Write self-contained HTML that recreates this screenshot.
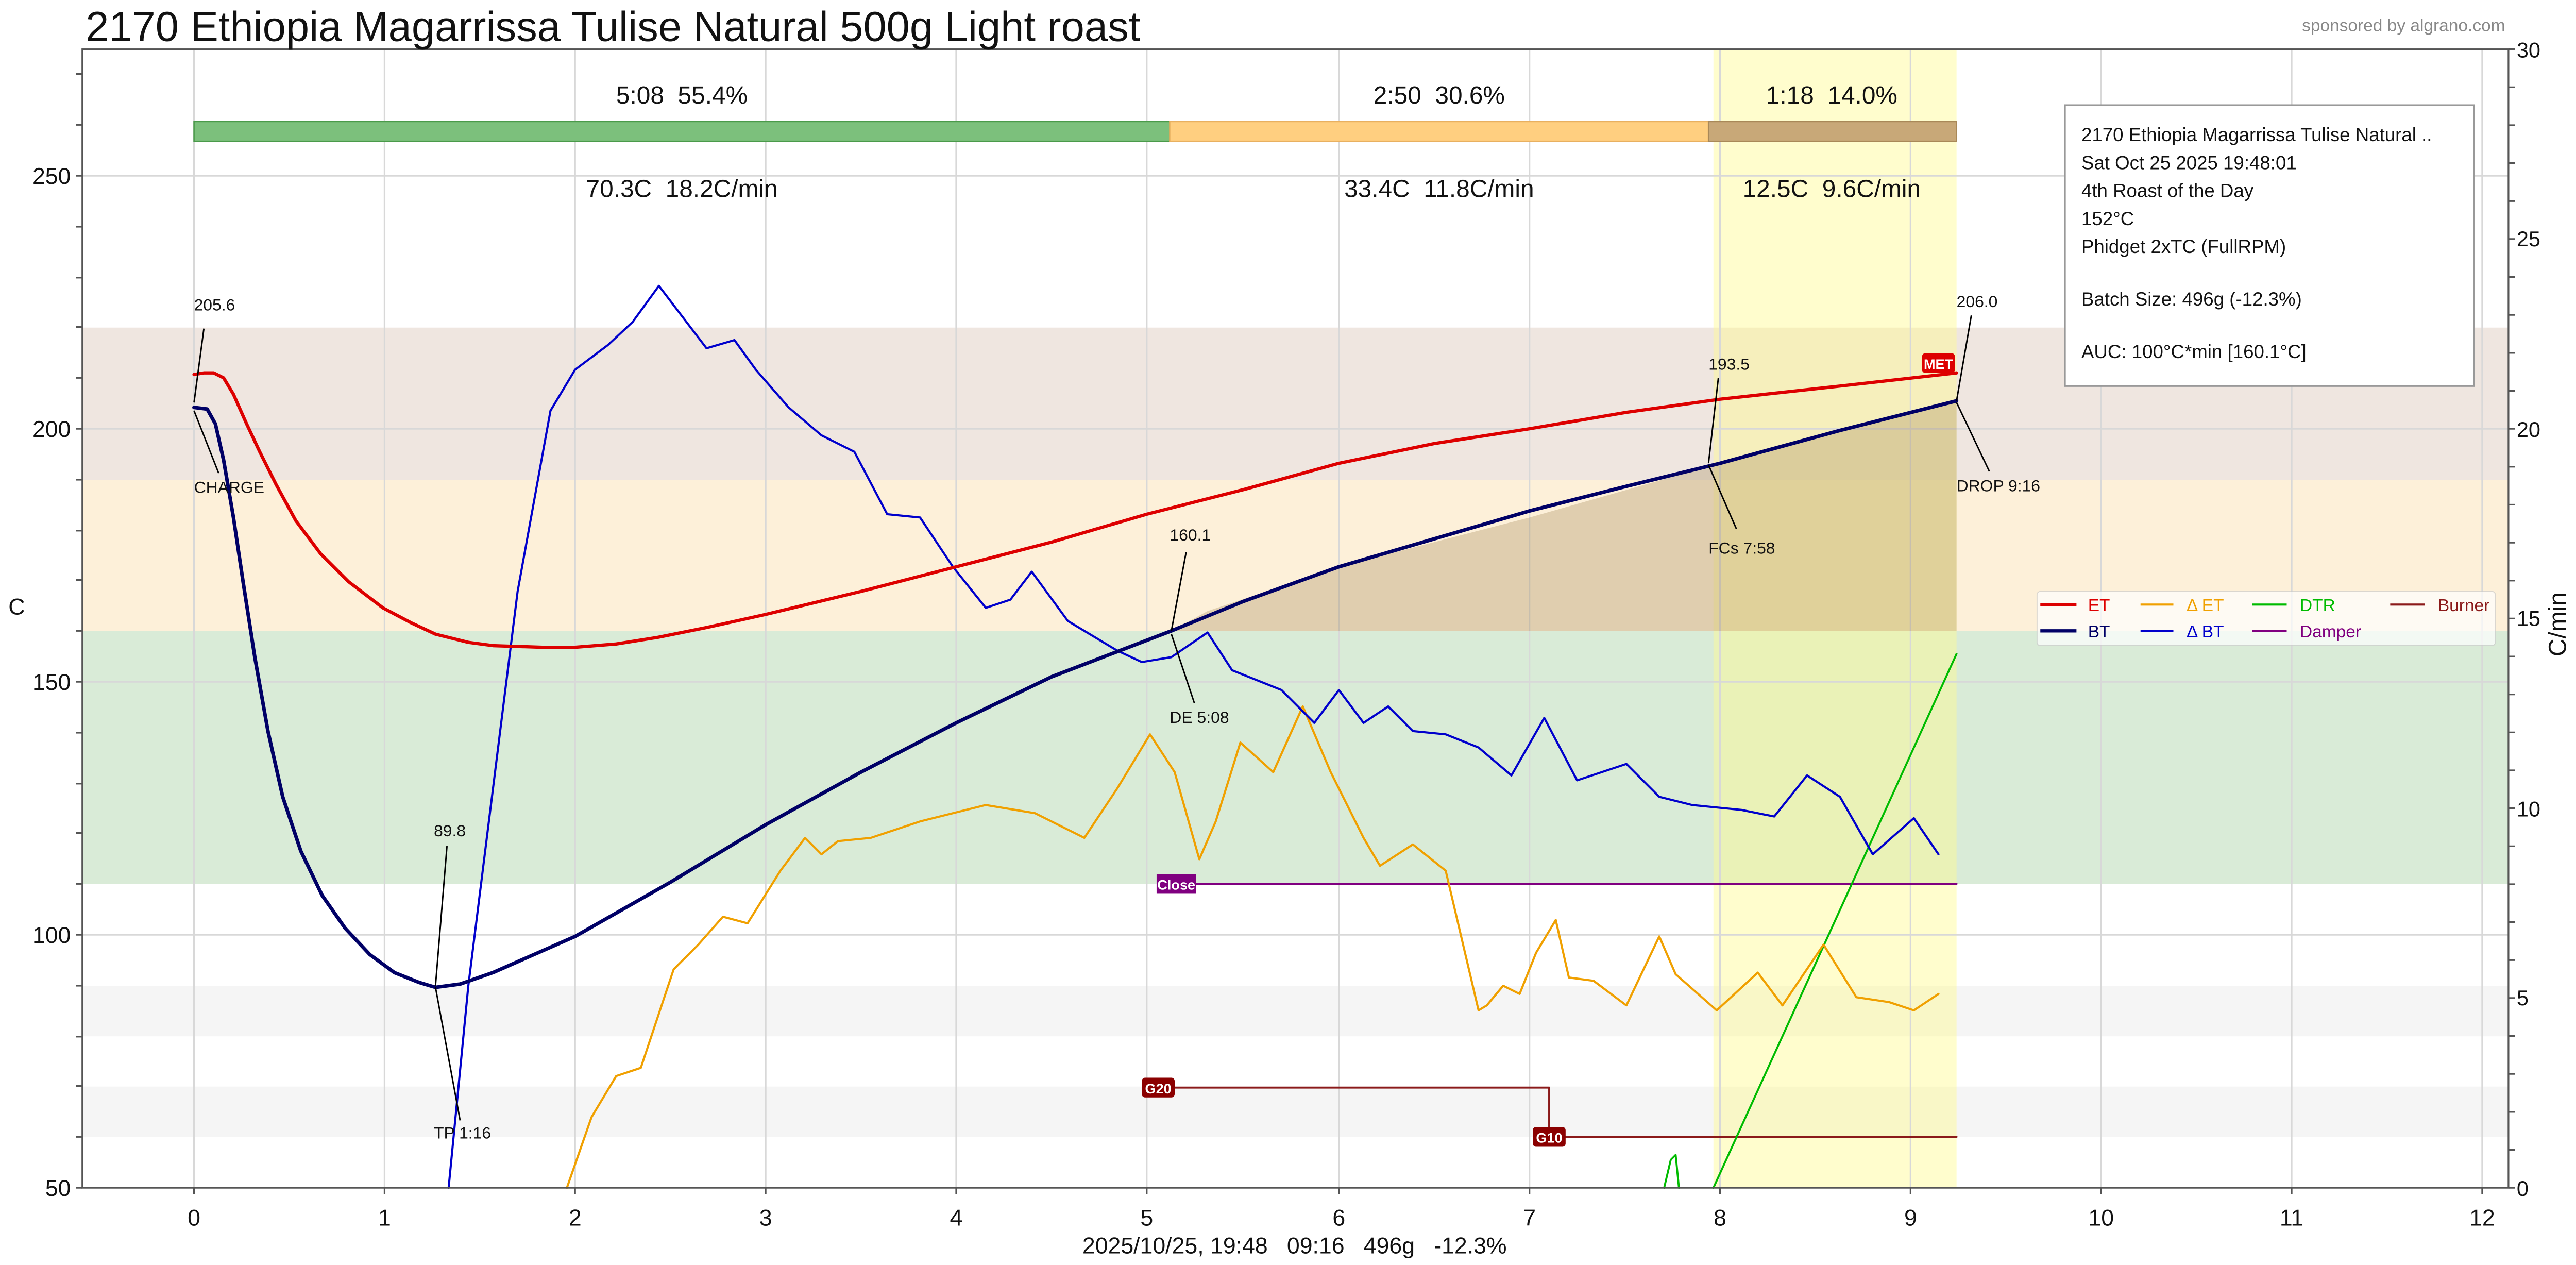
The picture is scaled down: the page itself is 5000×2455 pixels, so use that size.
<!DOCTYPE html>
<html><head><meta charset="utf-8"><style>
html,body{margin:0;padding:0;background:#fff;}
svg{display:block;}
text{font-family:"Liberation Sans",sans-serif;}
polyline{stroke-linejoin:round;stroke-linecap:round;}
</style></head><body>
<svg width="5000" height="2455" viewBox="0 0 1568 770" xmlns="http://www.w3.org/2000/svg">
<rect width="1568" height="770" fill="#fff"/>
<rect x="50" y="199.4" width="1477" height="92.6" fill="#efe6e0"/>
<rect x="50" y="292" width="1477" height="92" fill="#fdf0d9"/>
<rect x="50" y="384" width="1477" height="154" fill="#d9ebd7"/>
<rect x="50" y="600" width="1477" height="30.8" fill="#f5f5f5"/>
<rect x="50" y="661.4" width="1477" height="30.8" fill="#f5f5f5"/>
<rect x="1043" y="30" width="148" height="693" fill="#fffb90" opacity="0.45"/>
<g stroke="#d8d8d8" stroke-width="1">
<line x1="118" y1="30" x2="118" y2="723"/><line x1="234" y1="30" x2="234" y2="723"/><line x1="350" y1="30" x2="350" y2="723"/><line x1="466" y1="30" x2="466" y2="723"/><line x1="582" y1="30" x2="582" y2="723"/><line x1="698" y1="30" x2="698" y2="723"/><line x1="815" y1="30" x2="815" y2="723"/><line x1="931" y1="30" x2="931" y2="723"/><line x1="1047" y1="30" x2="1047" y2="723"/><line x1="1163" y1="30" x2="1163" y2="723"/><line x1="1279" y1="30" x2="1279" y2="723"/><line x1="1395" y1="30" x2="1395" y2="723"/><line x1="1511" y1="30" x2="1511" y2="723"/>
<line x1="50" y1="107" x2="1527" y2="107"/><line x1="50" y1="261" x2="1527" y2="261"/><line x1="50" y1="415" x2="1527" y2="415"/><line x1="50" y1="569" x2="1527" y2="569"/>
</g>
<path d="M713,384 L735,372 L815,345 L931,315 L1047,282 L1120,262 L1191,244 L1191,384 Z" fill="#a89060" opacity="0.35"/>
<rect x="118" y="74" width="594" height="12" fill="#7cc07c" stroke="#4a9a4a" stroke-width="0.8"/>
<rect x="712" y="74" width="328" height="12" fill="#ffcf80" stroke="#e8b060" stroke-width="0.8"/>
<rect x="1040" y="74" width="151" height="12" fill="#c8a878" stroke="#a88858" stroke-width="0.8"/>
<g font-size="15" text-anchor="middle" fill="#111">
<text x="415" y="63">5:08&#160;&#160;55.4%</text><text x="876" y="63">2:50&#160;&#160;30.6%</text><text x="1115" y="63">1:18&#160;&#160;14.0%</text>
<text x="415" y="120">70.3C&#160;&#160;18.2C/min</text><text x="876" y="120">33.4C&#160;&#160;11.8C/min</text><text x="1115" y="120">12.5C&#160;&#160;9.6C/min</text>
</g>
<polyline points="713,538 1191,538" fill="none" stroke="#800080" stroke-width="1.2"/>
<polyline points="705,662 943,662 943,692 1191,692" fill="none" stroke="#8b1a1a" stroke-width="1.2"/>
<polyline points="1013,723 1017,706 1020,703 1022,723" fill="none" stroke="#00bb00" stroke-width="1.2"/>
<polyline points="1043,723 1191,398" fill="none" stroke="#00bb00" stroke-width="1.2"/>
<polyline fill="none" stroke="#f0a000" stroke-width="1.3" points="345,723 360,680 375,655 390,650 410,590 425,575 440,558 455,562 475,530 490,510 500,520 510,512 530,510 560,500 600,490 630,495 660,510 680,480 700,447 715,470 730,523 740,500 755,452 775,470 793,430 810,470 830,510 840,527 860,514 880,530 900,615 905,612 915,600 925,605 935,580 947,560 955,595 970,597 990,612 1010,570 1020,593 1045,615 1070,592 1085,612 1110,575 1130,607 1150,610 1165,615 1180,605"/>
<polyline fill="none" stroke="#0000cc" stroke-width="1.3" points="273,723 285,600 300,480 315,360 335,250 350,225 370,210 385,196 401,174 430,212 447,207 460,225 480,248 500,265 520,275 540,313 560,315 580,345 600,370 615,365 628,348 650,378 680,396 695,403 713,400 735,385 750,408 780,420 800,440 815,420 830,440 845,430 860,445 880,447 900,455 920,472 940,437 960,475 990,465 1010,485 1030,490 1060,493 1080,497 1100,472 1120,485 1140,520 1165,498 1180,520"/>
<polyline fill="none" stroke="#dd0000" stroke-width="2" points="118,228 124,227 130,227 136,230 142,240 150,258 158,275 168,295 180,317 195,337 212,354 233,370 250,379 265,386 285,391 300,393 330,394 350,394 375,392 400,388 430,382 466,374 524,360 582,345 640,330 698,313 757,298 815,282 873,270 931,261 990,251 1047,243 1120,235 1191,227"/>
<polyline fill="none" stroke="#000066" stroke-width="2.2" points="118,248 126,249 131,258 136,280 142,315 148,355 155,400 163,445 172,485 183,518 196,545 210,565 225,581 240,592 255,598 265,601 280,599 300,592 350,570 408,537 466,502 524,470 582,440 640,412 713,384 757,366 815,345 873,328 931,311 990,296 1047,282 1120,262 1191,244"/>
<g stroke="#000" stroke-width="0.9" fill="none">
<line x1="124" y1="200" x2="118" y2="245"/><line x1="118" y1="250" x2="133" y2="288"/>
<line x1="272" y1="515" x2="265" y2="600"/><line x1="265" y1="601" x2="280" y2="682"/>
<line x1="722" y1="336" x2="713" y2="384"/><line x1="713" y1="386" x2="727" y2="428"/>
<line x1="1046" y1="230" x2="1040" y2="282"/><line x1="1040" y1="283" x2="1057" y2="322"/>
<line x1="1200" y1="192" x2="1191" y2="244"/><line x1="1191" y1="245" x2="1211" y2="287"/>
</g>
<g font-size="10" fill="#111">
<text x="118" y="189">205.6</text><text x="118" y="300">CHARGE</text>
<text x="264" y="509">89.8</text><text x="264" y="693">TP 1:16</text>
<text x="712" y="329">160.1</text><text x="712" y="440">DE 5:08</text>
<text x="1040" y="225">193.5</text><text x="1040" y="337">FCs 7:58</text>
<text x="1191" y="187">206.0</text><text x="1191" y="299">DROP 9:16</text>
</g>
<rect x="1170" y="215" width="20" height="12" rx="2" fill="#dd0000"/><text x="1180" y="224.5" font-size="8.5" fill="#fff" text-anchor="middle" font-weight="bold">MET</text>
<rect x="704" y="532" width="24" height="12" fill="#800080"/><text x="716" y="541.5" font-size="8.5" fill="#fff" text-anchor="middle" font-weight="bold">Close</text>
<rect x="695" y="656" width="20" height="12" rx="2" fill="#8b0000"/><text x="705" y="665.5" font-size="8.5" fill="#fff" text-anchor="middle" font-weight="bold">G20</text>
<rect x="933" y="686" width="20" height="12" rx="2" fill="#8b0000"/><text x="943" y="695.5" font-size="8.5" fill="#fff" text-anchor="middle" font-weight="bold">G10</text>
<rect x="50" y="30" width="1477" height="693" fill="none" stroke="#555" stroke-width="1"/>
<g stroke="#555" stroke-width="1">
<line x1="46" y1="723" x2="50" y2="723"/><line x1="46" y1="692" x2="50" y2="692"/><line x1="46" y1="661" x2="50" y2="661"/><line x1="46" y1="631" x2="50" y2="631"/><line x1="46" y1="600" x2="50" y2="600"/><line x1="46" y1="569" x2="50" y2="569"/><line x1="46" y1="538" x2="50" y2="538"/><line x1="46" y1="507" x2="50" y2="507"/><line x1="46" y1="477" x2="50" y2="477"/><line x1="46" y1="446" x2="50" y2="446"/><line x1="46" y1="415" x2="50" y2="415"/><line x1="46" y1="384" x2="50" y2="384"/><line x1="46" y1="353" x2="50" y2="353"/><line x1="46" y1="323" x2="50" y2="323"/><line x1="46" y1="292" x2="50" y2="292"/><line x1="46" y1="261" x2="50" y2="261"/><line x1="46" y1="230" x2="50" y2="230"/><line x1="46" y1="199" x2="50" y2="199"/><line x1="46" y1="169" x2="50" y2="169"/><line x1="46" y1="138" x2="50" y2="138"/><line x1="46" y1="107" x2="50" y2="107"/><line x1="46" y1="76" x2="50" y2="76"/><line x1="46" y1="45" x2="50" y2="45"/>
<line x1="118" y1="723" x2="118" y2="727"/><line x1="234" y1="723" x2="234" y2="727"/><line x1="350" y1="723" x2="350" y2="727"/><line x1="466" y1="723" x2="466" y2="727"/><line x1="582" y1="723" x2="582" y2="727"/><line x1="698" y1="723" x2="698" y2="727"/><line x1="815" y1="723" x2="815" y2="727"/><line x1="931" y1="723" x2="931" y2="727"/><line x1="1047" y1="723" x2="1047" y2="727"/><line x1="1163" y1="723" x2="1163" y2="727"/><line x1="1279" y1="723" x2="1279" y2="727"/><line x1="1395" y1="723" x2="1395" y2="727"/><line x1="1511" y1="723" x2="1511" y2="727"/>
</g>
<path d="M1527,723 h4 M1527,699.9 h4 M1527,676.8 h4 M1527,653.7 h4 M1527,630.6 h4 M1527,607.5 h4 M1527,584.4 h4 M1527,561.3 h4 M1527,538.2 h4 M1527,515.1 h4 M1527,492 h4 M1527,468.9 h4 M1527,445.8 h4 M1527,422.7 h4 M1527,399.6 h4 M1527,376.5 h4 M1527,353.4 h4 M1527,330.3 h4 M1527,307.2 h4 M1527,284.1 h4 M1527,261 h4 M1527,237.9 h4 M1527,214.8 h4 M1527,191.7 h4 M1527,168.6 h4 M1527,145.5 h4 M1527,122.4 h4 M1527,99.3 h4 M1527,76.2 h4 M1527,53.1 h4 M1527,30 h4" stroke="#555" stroke-width="1"/>
<g font-size="14" fill="#111" text-anchor="end">
<text x="43" y="728">50</text><text x="43" y="574">100</text><text x="43" y="420">150</text><text x="43" y="266">200</text><text x="43" y="112">250</text>
</g>
<g font-size="13" fill="#111">
<text x="1532" y="728">0</text><text x="1532" y="612">5</text><text x="1532" y="497">10</text><text x="1532" y="381">15</text><text x="1532" y="266">20</text><text x="1532" y="150">25</text><text x="1532" y="35">30</text>
</g>
<g font-size="14" fill="#111" text-anchor="middle">
<text x="118" y="746">0</text><text x="234" y="746">1</text><text x="350" y="746">2</text><text x="466" y="746">3</text><text x="582" y="746">4</text><text x="698" y="746">5</text><text x="815" y="746">6</text><text x="931" y="746">7</text><text x="1047" y="746">8</text><text x="1163" y="746">9</text><text x="1279" y="746">10</text><text x="1395" y="746">11</text><text x="1511" y="746">12</text>
<text x="788" y="763">2025/10/25, 19:48&#160;&#160;&#160;09:16&#160;&#160;&#160;496g&#160;&#160;&#160;-12.3%</text>
</g>
<text x="5" y="374" font-size="14" fill="#111">C</text>
<text transform="translate(1562,380) rotate(-90)" font-size="15" fill="#111" text-anchor="middle">C/min</text>
<text x="52" y="25" font-size="25.5" fill="#111">2170 Ethiopia Magarrissa Tulise Natural 500g Light roast</text>
<text x="1525" y="19" font-size="10.5" fill="#888" text-anchor="end">sponsored by algrano.com</text>
<rect x="1257" y="64" width="249" height="171" fill="#fff" stroke="#999" stroke-width="1"/>
<g font-size="11.5" fill="#111">
<text x="1267" y="86">2170 Ethiopia Magarrissa Tulise Natural ..</text>
<text x="1267" y="103">Sat Oct 25 2025 19:48:01</text>
<text x="1267" y="120">4th Roast of the Day</text>
<text x="1267" y="137">152°C</text>
<text x="1267" y="154">Phidget 2xTC (FullRPM)</text>
<text x="1267" y="186">Batch Size: 496g (-12.3%)</text>
<text x="1267" y="218">AUC: 100°C*min [160.1°C]</text>
</g>
<rect x="1240" y="360" width="279" height="33" rx="2" fill="#fff" opacity="0.7" stroke="#ccc" stroke-width="0.6"/>
<g stroke-width="2">
<line x1="1242" y1="368" x2="1264" y2="368" stroke="#dd0000"/>
<line x1="1242" y1="384" x2="1264" y2="384" stroke="#000066"/>
<line x1="1303" y1="368" x2="1323" y2="368" stroke="#f0a000" stroke-width="1.3"/>
<line x1="1303" y1="384" x2="1323" y2="384" stroke="#0000cc" stroke-width="1.3"/>
<line x1="1371" y1="368" x2="1392" y2="368" stroke="#00bb00" stroke-width="1.3"/>
<line x1="1371" y1="384" x2="1392" y2="384" stroke="#800080" stroke-width="1.3"/>
<line x1="1455" y1="368" x2="1476" y2="368" stroke="#8b1a1a" stroke-width="1.3"/>
</g>
<g font-size="10.5">
<text x="1271" y="372" fill="#dd0000">ET</text><text x="1271" y="388" fill="#000066">BT</text>
<text x="1331" y="372" fill="#f0a000">Δ ET</text><text x="1331" y="388" fill="#0000cc">Δ BT</text>
<text x="1400" y="372" fill="#00bb00">DTR</text><text x="1400" y="388" fill="#800080">Damper</text>
<text x="1484" y="372" fill="#8b1a1a">Burner</text>
</g>
</svg>
</body></html>
